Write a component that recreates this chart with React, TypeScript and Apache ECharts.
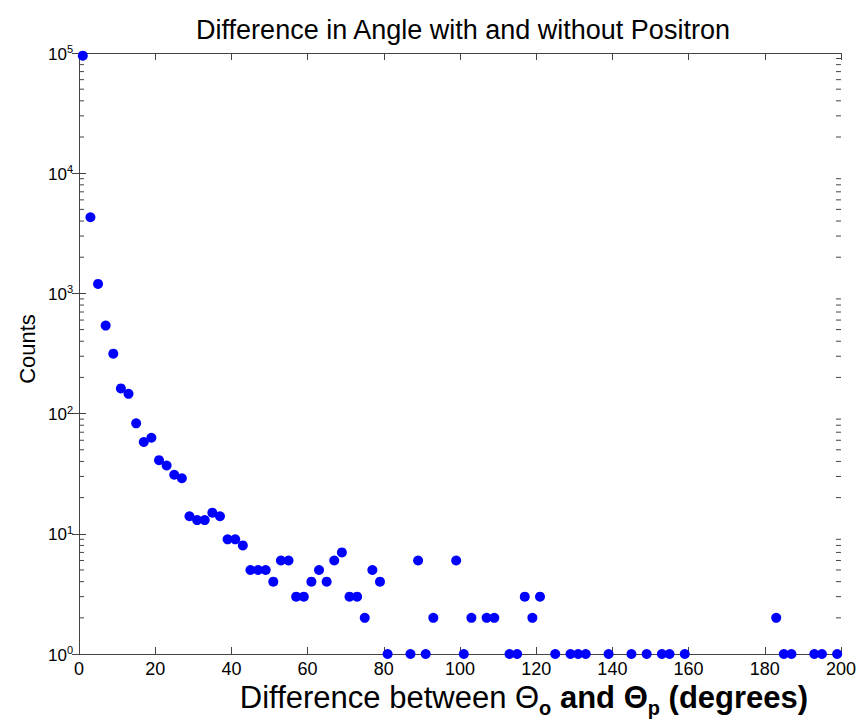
import React, { useEffect, useRef } from "react";
import * as echarts from "echarts";

const TITLE = "Difference in Angle with and without Positron";
const Y_NAME = "Counts";

const angleBins = [
  1, 3, 5, 7, 9, 11, 13, 15, 17, 19, 21, 23, 25, 27, 29, 31, 33, 35, 37, 39,
  41, 43, 45, 47, 49, 51, 53, 55, 57, 59, 61, 63, 65, 67, 69, 71, 73, 75, 77, 79,
  81, 87, 89, 91, 93, 99, 101, 103, 107, 109, 113, 115, 117, 119, 121, 125, 129,
  131, 133, 139, 145, 149, 153, 155, 159, 183, 185, 187, 193, 195, 199,
];
const counts = [
  95000, 4300, 1200, 540, 315, 162, 146, 83, 58, 63, 41, 37, 31, 29, 14, 13, 13,
  15, 14, 9, 9, 8, 5, 5, 5, 4, 6, 6, 3, 3, 4, 5, 4, 6, 7, 3, 3, 2, 5, 4,
  1, 1, 6, 1, 2, 6, 1, 2, 2, 2, 1, 1, 3, 2, 3, 1, 1,
  1, 1, 1, 1, 1, 1, 1, 1, 2, 1, 1, 1, 1, 1,
];

const xTicks = [0, 20, 40, 60, 80, 100, 120, 140, 160, 180, 200];
const decades = [0, 1, 2, 3, 4, 5];
const minorMultipliers = [2, 3, 4, 5, 6, 7, 8, 9];

const FONT = '"Liberation Sans", Arial, Helvetica, sans-serif';
const AXIS_COLOR = "#444444";

export default function App() {
  const ref = useRef<HTMLDivElement>(null);

  useEffect(() => {
    if (!ref.current) return;
    const chart = echarts.init(ref.current, null, { renderer: "svg" });

    const scatterData = angleBins.map((x, i) => [x, counts[i]]);
    const minorData: number[][] = [];
    decades.slice(0, -1).forEach((d) => {
      minorMultipliers.forEach((m) => minorData.push([0, m * Math.pow(10, d)]));
    });

    const xMin = xTicks[0];
    const xMax = xTicks[xTicks.length - 1];

    const axisLine = { show: true, lineStyle: { color: AXIS_COLOR, width: 1 } };

    chart.setOption({
      animation: false,
      backgroundColor: "#ffffff",
      textStyle: { fontFamily: FONT },
      grid: { left: 79, right: 16, top: 53, bottom: 68, containLabel: false },
      xAxis: [
        {
          type: "value",
          min: xMin,
          max: xMax,
          interval: 20,
          position: "bottom",
          axisLine,
          axisTick: { show: true, inside: true, length: 7, lineStyle: { color: AXIS_COLOR } },
          axisLabel: { color: "#000", fontSize: 18, margin: 6, fontFamily: FONT },
          splitLine: { show: false },
        },
        {
          type: "value",
          min: xMin,
          max: xMax,
          interval: 20,
          position: "top",
          axisLine,
          axisTick: { show: true, inside: true, length: 7, lineStyle: { color: AXIS_COLOR } },
          axisLabel: { show: false },
          splitLine: { show: false },
        },
      ],
      yAxis: [
        {
          type: "log",
          logBase: 10,
          min: 1,
          max: 100000,
          position: "left",
          axisLine,
          axisTick: { show: true, inside: true, length: 7, lineStyle: { color: AXIS_COLOR } },
          axisLabel: {
            margin: 6,
            fontSize: 17,
            color: "#000",
            formatter: (v: number) => `{b|10}{e|${Math.round(Math.log10(v))}}`,
            rich: {
              b: { fontSize: 17, fontFamily: FONT, color: "#000", lineHeight: 19, verticalAlign: "bottom" },
              e: { fontSize: 11, fontFamily: FONT, color: "#000", lineHeight: 12, padding: [0, 0, 8, 0], verticalAlign: "bottom" },
            },
          },
          splitLine: { show: false },
        },
        {
          type: "log",
          logBase: 10,
          min: 1,
          max: 100000,
          position: "right",
          axisLine,
          axisTick: { show: true, inside: true, length: 7, lineStyle: { color: AXIS_COLOR } },
          axisLabel: { show: false },
          splitLine: { show: false },
        },
      ],
      series: [
        {
          type: "custom",
          xAxisIndex: 0,
          yAxisIndex: 0,
          silent: true,
          clip: false,
          data: minorData,
          z: 1,
          renderItem: (params: any, api: any) => {
            const v = api.value(1);
            const pL = api.coord([xMin, v]);
            const pR = api.coord([xMax, v]);
            const style = { stroke: AXIS_COLOR, lineWidth: 1 };
            return {
              type: "group",
              children: [
                { type: "line", shape: { x1: pL[0], y1: pL[1], x2: pL[0] + 5, y2: pL[1] }, style },
                { type: "line", shape: { x1: pR[0] - 5, y1: pR[1], x2: pR[0], y2: pR[1] }, style },
              ],
            };
          },
        },
        {
          type: "scatter",
          xAxisIndex: 0,
          yAxisIndex: 0,
          clip: false,
          symbol: "circle",
          symbolSize: 10,
          itemStyle: { color: "#0000ff", opacity: 1 },
          data: scatterData,
          z: 5,
        },
      ],
      graphic: [
        {
          type: "text",
          x: 463,
          y: 30,
          style: {
            text: TITLE,
            font: `27px ${FONT}`,
            fill: "#000",
            align: "center",
            verticalAlign: "middle",
          },
        },
        {
          type: "text",
          x: 27,
          y: 349,
          rotation: Math.PI / 2,
          style: {
            text: Y_NAME,
            font: `22px ${FONT}`,
            fill: "#000",
            align: "center",
            verticalAlign: "middle",
          },
        },
        {
          type: "text",
          x: 524,
          y: 697,
          style: {
            text: "{r|Difference between Θ}{s|o}{b| and Θ}{s|p}{b| (degrees)}",
            align: "center",
            verticalAlign: "middle",
            rich: {
              r: { fontSize: 31, fontFamily: FONT, fill: "#000", lineHeight: 31, verticalAlign: "top" },
              b: { fontSize: 31, fontFamily: FONT, fontWeight: "bold", fill: "#000", lineHeight: 31, verticalAlign: "top" },
              s: { fontSize: 20, fontFamily: FONT, fontWeight: "bold", fill: "#000", lineHeight: 20, padding: [16, 0, 0, 0], verticalAlign: "top" },
            },
          },
        },
      ],
    });

    return () => chart.dispose();
  }, []);

  return (
    <div
      ref={ref}
      style={{ position: "fixed", left: 0, top: 0, width: 859, height: 722, background: "#fff" }}
    />
  );
}
